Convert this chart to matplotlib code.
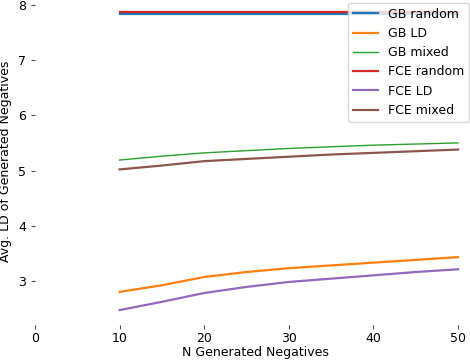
import numpy as np
import matplotlib
matplotlib.use('Agg')
import matplotlib.pyplot as plt

n_neg = [10, 15, 20, 25, 30, 35, 40, 45, 50]

gb_random = [7.835, 7.835, 7.835, 7.835, 7.835, 7.835, 7.835, 7.835, 7.835]
gb_ld = [2.80, 2.92, 3.07, 3.16, 3.23, 3.28, 3.33, 3.38, 3.43]
gb_mixed = [5.19, 5.26, 5.32, 5.36, 5.40, 5.43, 5.46, 5.48, 5.50]
fce_random = [7.875, 7.875, 7.875, 7.875, 7.875, 7.875, 7.875, 7.875, 7.875]
fce_ld = [2.47, 2.62, 2.78, 2.89, 2.98, 3.04, 3.10, 3.16, 3.21]
fce_mixed = [5.02, 5.09, 5.17, 5.21, 5.25, 5.29, 5.32, 5.35, 5.38]

plt.rcParams['font.size'] = 9

fig = plt.figure(figsize=(4.7, 3.62), dpi=100)
ax = fig.add_axes([35/470, 37/362, 440/470, 328/362])

ax.plot(n_neg, gb_random, color='tab:blue', lw=1.6, label='GB random')
ax.plot(n_neg, gb_ld, color='tab:orange', lw=1.6, label='GB LD')
ax.plot(n_neg, gb_mixed, color='tab:green', lw=1.0, label='GB mixed')
ax.plot(n_neg, fce_random, color='tab:red', lw=1.6, label='FCE random')
ax.plot(n_neg, fce_ld, color='tab:purple', lw=1.6, label='FCE LD')
ax.plot(n_neg, fce_mixed, color='tab:brown', lw=1.6, label='FCE mixed')

ax.set_xlim(left=0)
ax.set_xticks([0, 10, 20, 30, 40, 50])
ax.set_yticks([3, 4, 5, 6, 7, 8])
ax.tick_params(length=3, color='0.3')
ax.tick_params(axis='x', pad=2)
for s in ax.spines.values():
    s.set_visible(False)
ax.set_xlabel('N Generated Negatives', labelpad=1)
ax.set_ylabel('Avg. LD of Generated Negatives')
ax.legend(loc='upper right', fontsize=9, borderaxespad=0.45)

fig.savefig('out.png', dpi=100)
